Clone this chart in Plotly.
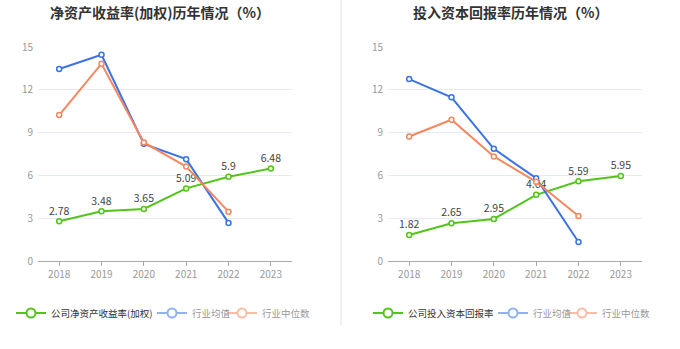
import plotly.graph_objects as go

years = [2018, 2019, 2020, 2021, 2022, 2023]
year_labels = ["2018", "2019", "2020", "2021", "2022", "2023"]

# Left chart: ROE (weighted)
roe_company = [2.78, 3.48, 3.65, 5.09, 5.9, 6.48]
roe_mean = [13.46, 14.46, 8.21, 7.14, 2.67]
roe_median = [10.23, 13.83, 8.31, 6.62, 3.46]

# Right chart: ROIC
roic_company = [1.82, 2.65, 2.95, 4.64, 5.59, 5.95]
roic_mean = [12.75, 11.47, 7.86, 5.80, 1.33]
roic_median = [8.73, 9.90, 7.33, 5.55, 3.16]

title_left = "净资产收益率(加权)历年情况（%）"
title_right = "投入资本回报率历年情况（%）"
name_company_left = "公司净资产收益率(加权)"
name_company_right = "公司投入资本回报率"
name_mean = "行业均值"
name_median = "行业中位数"

GREEN = "#52c41a"
BLUE = "#3b73e6"
ORANGE = "#f5875f"
FONT = "Noto Sans CJK SC, Noto Sans, sans-serif"

W, H = 680, 349

def px_x(p):
    return p / W

def px_y(p):
    return 1 - p / H

fig = go.Figure()

def add_chart(xa, ya, company, mean, median, cname, legends):
    fig.add_trace(go.Scatter(
        x=years, y=company, xaxis=xa, yaxis=ya, mode="lines+markers+text",
        text=[str(v) for v in company], textposition="top center",
        textfont=dict(size=10.5, color="#444", family=FONT),
        line=dict(color=GREEN, width=2),
        marker=dict(symbol="circle", size=5, color="white", line=dict(color=GREEN, width=1.5)),
        showlegend=False, cliponaxis=False))
    fig.add_trace(go.Scatter(
        x=years[:len(mean)], y=mean, xaxis=xa, yaxis=ya, mode="lines+markers",
        line=dict(color=BLUE, width=2),
        marker=dict(symbol="circle", size=5, color="white", line=dict(color=BLUE, width=1.5)),
        showlegend=False, cliponaxis=False))
    fig.add_trace(go.Scatter(
        x=years[:len(median)], y=median, xaxis=xa, yaxis=ya, mode="lines+markers",
        line=dict(color=ORANGE, width=2),
        marker=dict(symbol="circle", size=5, color="white", line=dict(color=ORANGE, width=1.5)),
        showlegend=False, cliponaxis=False))
    # legend entries
    for (nm, col, op, tc), lg in zip([(cname, GREEN, 1.0, "#333"), (name_mean, BLUE, 0.55, "#999"),
                                      (name_median, ORANGE, 0.55, "#999")], legends):
        fig.add_trace(go.Scatter(
            x=[None], y=[None], xaxis=xa, yaxis=ya, mode="lines+markers",
            name=f'<span style="color:{tc}">{nm}</span>',
            line=dict(color=col, width=2), opacity=op,
            marker=dict(symbol="circle", size=9, color="white", line=dict(color=col, width=2)),
            legend=lg, showlegend=True))

add_chart("x", "y", roe_company, roe_mean, roe_median, name_company_left,
          ["legend", "legend2", "legend3"])
add_chart("x2", "y2", roic_company, roic_mean, roic_median, name_company_right,
          ["legend4", "legend5", "legend6"])

xcommon = dict(range=[2017.5, 2023.5], tickvals=years, ticktext=year_labels,
               showgrid=False, showline=True, linecolor="#aaa", linewidth=1,
               ticks="outside", ticklen=4, tickcolor="#aaa", automargin=False,
               tickfont=dict(size=10, color="#999", family=FONT), zeroline=False, fixedrange=True)
ycommon = dict(range=[0, 15], tickvals=[0, 3, 6, 9, 12, 15], showgrid=True,
               gridcolor="#e6eaf4", gridwidth=1, showline=False, zeroline=False, automargin=False,
               tickfont=dict(size=10, color="#999", family=FONT), ticks="", ticklabelstandoff=4,
               fixedrange=True)

legend_common = dict(orientation="h", bgcolor="rgba(0,0,0,0)", font=dict(size=9.5, family=FONT, color="#333"),
                     yanchor="middle", xanchor="left", itemwidth=30,
                     itemclick=False, itemdoubleclick=False)

LEG_Y = 313
legend_text_x = [51, 192, 262, 408, 533, 602]
legends = {}
for i, tx in enumerate(legend_text_x):
    key = "legend" if i == 0 else f"legend{i + 1}"
    legends[key] = dict(x=px_x(tx - 40), y=px_y(LEG_Y), **legend_common)

fig.update_layout(
    template="none",
    width=W, height=H, margin=dict(l=0, r=0, t=0, b=0, autoexpand=False),
    paper_bgcolor="white", plot_bgcolor="white",
    font=dict(family=FONT),
    xaxis=dict(domain=[px_x(38), px_x(292)], anchor="y", **xcommon),
    yaxis=dict(domain=[px_y(261), px_y(47)], anchor="x", **ycommon),
    xaxis2=dict(domain=[px_x(388), px_x(642)], anchor="y2", **xcommon),
    yaxis2=dict(domain=[px_y(261), px_y(47)], anchor="x2", **ycommon),
    annotations=[
        dict(text=f"<b>{title_left}</b>", x=px_x(160), y=px_y(12), xref="paper", yref="paper",
             showarrow=False, font=dict(size=14, color="#333", family=FONT), xanchor="center", yanchor="middle"),
        dict(text=f"<b>{title_right}</b>", x=px_x(510), y=px_y(12), xref="paper", yref="paper",
             showarrow=False, font=dict(size=14, color="#333", family=FONT), xanchor="center", yanchor="middle"),
    ],
    shapes=[dict(type="line", xref="paper", yref="paper", x0=px_x(341), x1=px_x(341),
                 y0=px_y(0), y1=px_y(325), line=dict(color="#f0f0f0", width=2))],
    **legends,
)

fig.write_html("out.html")
